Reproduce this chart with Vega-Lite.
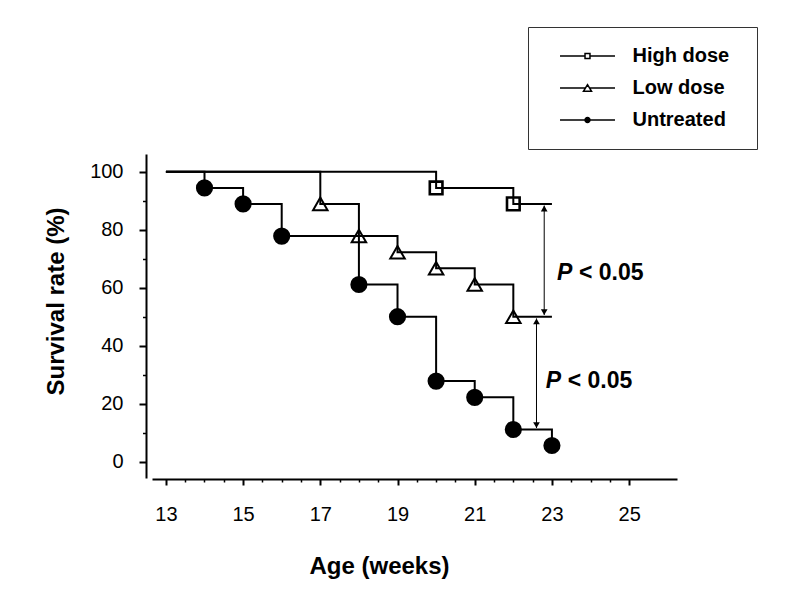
{
  "$schema": "https://vega.github.io/schema/vega-lite/v6.json",
  "width": 525,
  "height": 324,
  "autosize": {"type": "none"},
  "padding": {"left": 152, "top": 154, "right": 123, "bottom": 122},
  "background": "white",
  "config": {"view": {"stroke": null}, "font": "Liberation Sans"},
  "datasets": {
    "km": [
      {"group": "High dose", "week": 13, "surv": 100, "event": false},
      {"group": "High dose", "week": 20, "surv": 94.4, "event": true},
      {"group": "High dose", "week": 22, "surv": 88.9, "event": true},
      {"group": "High dose", "week": 23, "surv": 88.9, "event": false},
      {"group": "Low dose", "week": 13, "surv": 100, "event": false},
      {"group": "Low dose", "week": 17, "surv": 88.9, "event": true},
      {"group": "Low dose", "week": 18, "surv": 77.8, "event": true},
      {"group": "Low dose", "week": 19, "surv": 72.2, "event": true},
      {"group": "Low dose", "week": 20, "surv": 66.7, "event": true},
      {"group": "Low dose", "week": 21, "surv": 61.1, "event": true},
      {"group": "Low dose", "week": 22, "surv": 50, "event": true},
      {"group": "Low dose", "week": 23, "surv": 50, "event": false},
      {"group": "Untreated", "week": 13, "surv": 100, "event": false},
      {"group": "Untreated", "week": 14, "surv": 94.4, "event": true},
      {"group": "Untreated", "week": 15, "surv": 88.9, "event": true},
      {"group": "Untreated", "week": 16, "surv": 77.8, "event": true},
      {"group": "Untreated", "week": 18, "surv": 61.1, "event": true},
      {"group": "Untreated", "week": 19, "surv": 50, "event": true},
      {"group": "Untreated", "week": 20, "surv": 27.8, "event": true},
      {"group": "Untreated", "week": 21, "surv": 22.2, "event": true},
      {"group": "Untreated", "week": 22, "surv": 11.1, "event": true},
      {"group": "Untreated", "week": 23, "surv": 5.6, "event": true}
    ],
    "arrows": [
      {"x": 22.8, "top": 88.3, "bottom": 50.6},
      {"x": 22.6, "top": 49.4, "bottom": 11.6}
    ],
    "plabels": [
      {"x": 23.13, "y": 65.1, "p": "P", "rest": "< 0.05"},
      {"x": 22.84, "y": 27.8, "p": "P", "rest": "< 0.05"}
    ]
  },
  "layer": [
    {
      "data": {"name": "km"},
      "mark": {"type": "line", "interpolate": "step-after", "color": "black", "strokeWidth": 2},
      "encoding": {
        "x": {
          "field": "week", "type": "quantitative",
          "scale": {"domain": [12.64, 26.24], "nice": false, "zero": false},
          "axis": {
            "orient": "bottom", "offset": 1, "values": [13, 15, 17, 19, 21, 23, 25],
            "title": "Age (weeks)", "titleFontSize": 24, "titleFontWeight": "bold", "titleColor": "black",
            "titleX": 227, "titleY": 94, "titleBaseline": "alphabetic", "titleAlign": "center",
            "labelFontSize": 20, "labelColor": "black", "labelBaseline": "alphabetic", "labelPadding": 35,
            "labelFlush": false, "labelOverlap": false,
            "tickSize": 6, "tickWidth": 2, "tickColor": "black",
            "domainColor": "black", "domainWidth": 2, "grid": false
          }
        },
        "y": {
          "field": "surv", "type": "quantitative",
          "scale": {"domain": [-5.62, 106.1], "nice": false, "zero": false},
          "axis": {
            "orient": "left", "offset": 6, "values": [0, 20, 40, 60, 80, 100],
            "title": "Survival rate (%)", "titleFontSize": 24, "titleFontWeight": "bold", "titleColor": "black",
            "titleX": -83, "titleY": 147, "titleBaseline": "alphabetic", "titleAlign": "center", "titleAngle": 270,
            "labelFontSize": 20, "labelColor": "black", "labelPadding": 16,
            "labelFlush": false, "labelOverlap": false,
            "tickSize": 7, "tickWidth": 2, "tickColor": "black",
            "domainColor": "black", "domainWidth": 2, "grid": false
          }
        },
        "detail": {"field": "group"}
      }
    },
    {
      "data": {"name": "arrows"},
      "mark": {"type": "rule", "color": "black", "strokeWidth": 1},
      "encoding": {
        "x": {
          "field": "x", "type": "quantitative",
          "axis": {
            "orient": "bottom", "offset": 1,
            "values": [13.5, 14, 14.5, 15.5, 16, 16.5, 17.5, 18, 18.5, 19.5, 20, 20.5, 21.5, 22, 22.5, 23.5, 24, 24.5],
            "labels": false, "domain": false, "title": null, "grid": false,
            "tickSize": 3, "tickWidth": 1.5, "tickColor": "black"
          }
        },
        "y": {
          "field": "top", "type": "quantitative",
          "axis": {
            "orient": "left", "offset": 6, "values": [10, 30, 50, 70, 90],
            "labels": false, "domain": false, "title": null, "grid": false,
            "tickSize": 3.5, "tickWidth": 1.5, "tickColor": "black"
          }
        },
        "y2": {"field": "bottom"}
      }
    },
    {
      "data": {"name": "arrows"},
      "mark": {"type": "point", "shape": "triangle-up", "filled": true, "color": "black", "size": 45, "opacity": 1, "yOffset": 2.9},
      "encoding": {
        "x": {"field": "x", "type": "quantitative", "axis": null},
        "y": {"field": "top", "type": "quantitative", "axis": null}
      }
    },
    {
      "data": {"name": "arrows"},
      "mark": {"type": "point", "shape": "triangle-down", "filled": true, "color": "black", "size": 45, "opacity": 1, "yOffset": -2.9},
      "encoding": {
        "x": {"field": "x", "type": "quantitative", "axis": null},
        "y": {"field": "bottom", "type": "quantitative", "axis": null}
      }
    },
    {
      "data": {"name": "plabels"},
      "mark": {"type": "text", "align": "left", "baseline": "middle", "fontSize": 23, "fontWeight": "bold", "fontStyle": "italic", "font": "Liberation Sans", "color": "black"},
      "encoding": {
        "x": {"field": "x", "type": "quantitative", "axis": null},
        "y": {"field": "y", "type": "quantitative", "axis": null},
        "text": {"field": "p"}
      }
    },
    {
      "data": {"name": "plabels"},
      "mark": {"type": "text", "align": "left", "baseline": "middle", "fontSize": 23, "fontWeight": "bold", "font": "Liberation Sans", "color": "black", "dx": 22},
      "encoding": {
        "x": {"field": "x", "type": "quantitative", "axis": null},
        "y": {"field": "y", "type": "quantitative", "axis": null},
        "text": {"field": "rest"}
      }
    },
    {
      "data": {"name": "km"},
      "transform": [{"filter": "datum.event"}],
      "mark": {"type": "point", "stroke": "black", "opacity": 1},
      "encoding": {
        "x": {"field": "week", "type": "quantitative", "axis": null},
        "y": {"field": "surv", "type": "quantitative", "axis": null},
        "shape": {
          "condition": [
            {"test": "datum.group === 'High dose'", "value": "square"},
            {"test": "datum.group === 'Low dose'", "value": "triangle-up"}
          ],
          "value": "circle"
        },
        "fill": {"condition": {"test": "datum.group === 'Untreated'", "value": "black"}, "value": "transparent"},
        "size": {
          "condition": [
            {"test": "datum.group === 'High dose'", "value": 160},
            {"test": "datum.group === 'Low dose'", "value": 210}
          ],
          "value": 230
        },
        "strokeWidth": {"condition": {"test": "datum.group === 'High dose'", "value": 2.6}, "value": 2}
      }
    },
    {
      "data": {"name": "km"},
      "transform": [{"filter": "datum.event"}],
      "mark": {"type": "point", "stroke": "black", "opacity": 0, "strokeWidth": 1.5},
      "encoding": {
        "x": {"field": "week", "type": "quantitative", "axis": null},
        "y": {"field": "surv", "type": "quantitative", "axis": null},
        "shape": {
          "field": "group", "type": "nominal",
          "scale": {
            "domain": ["High dose", "Low dose", "Untreated"],
            "range": [
              "M16,0h0.001M-3,0H-0.27M0.27,0H3M-0.27,-0.27H0.27V0.27H-0.27Z",
              "M16,0h0.001M-3,0H-0.22M0.22,0H3M0,-0.36L0.44,0.36H-0.44Z",
              "M16,0h0.001M-3,0H3M0.27,0A0.27,0.27,0,1,1,-0.27,0A0.27,0.27,0,1,1,0.27,0Z"
            ]
          },
          "legend": {
            "title": null, "orient": "none", "legendX": 376, "legendY": -127,
            "padding": 19, "strokeColor": "#333",
            "symbolSize": 336, "symbolStrokeWidth": 1.5, "symbolOpacity": 1,
            "symbolOffset": 30.5, "labelOffset": 35,
            "rowPadding": 12, "labelFontSize": 20, "labelFontWeight": "bold", "labelColor": "black",
            "labelFont": "Liberation Sans", "labelLimit": 300
          }
        },
        "fill": {
          "field": "group", "type": "nominal",
          "scale": {"domain": ["High dose", "Low dose", "Untreated"], "range": ["white", "white", "black"]}
        }
      }
    }
  ],
  "resolve": {"axis": {"x": "independent", "y": "independent"}}
}
